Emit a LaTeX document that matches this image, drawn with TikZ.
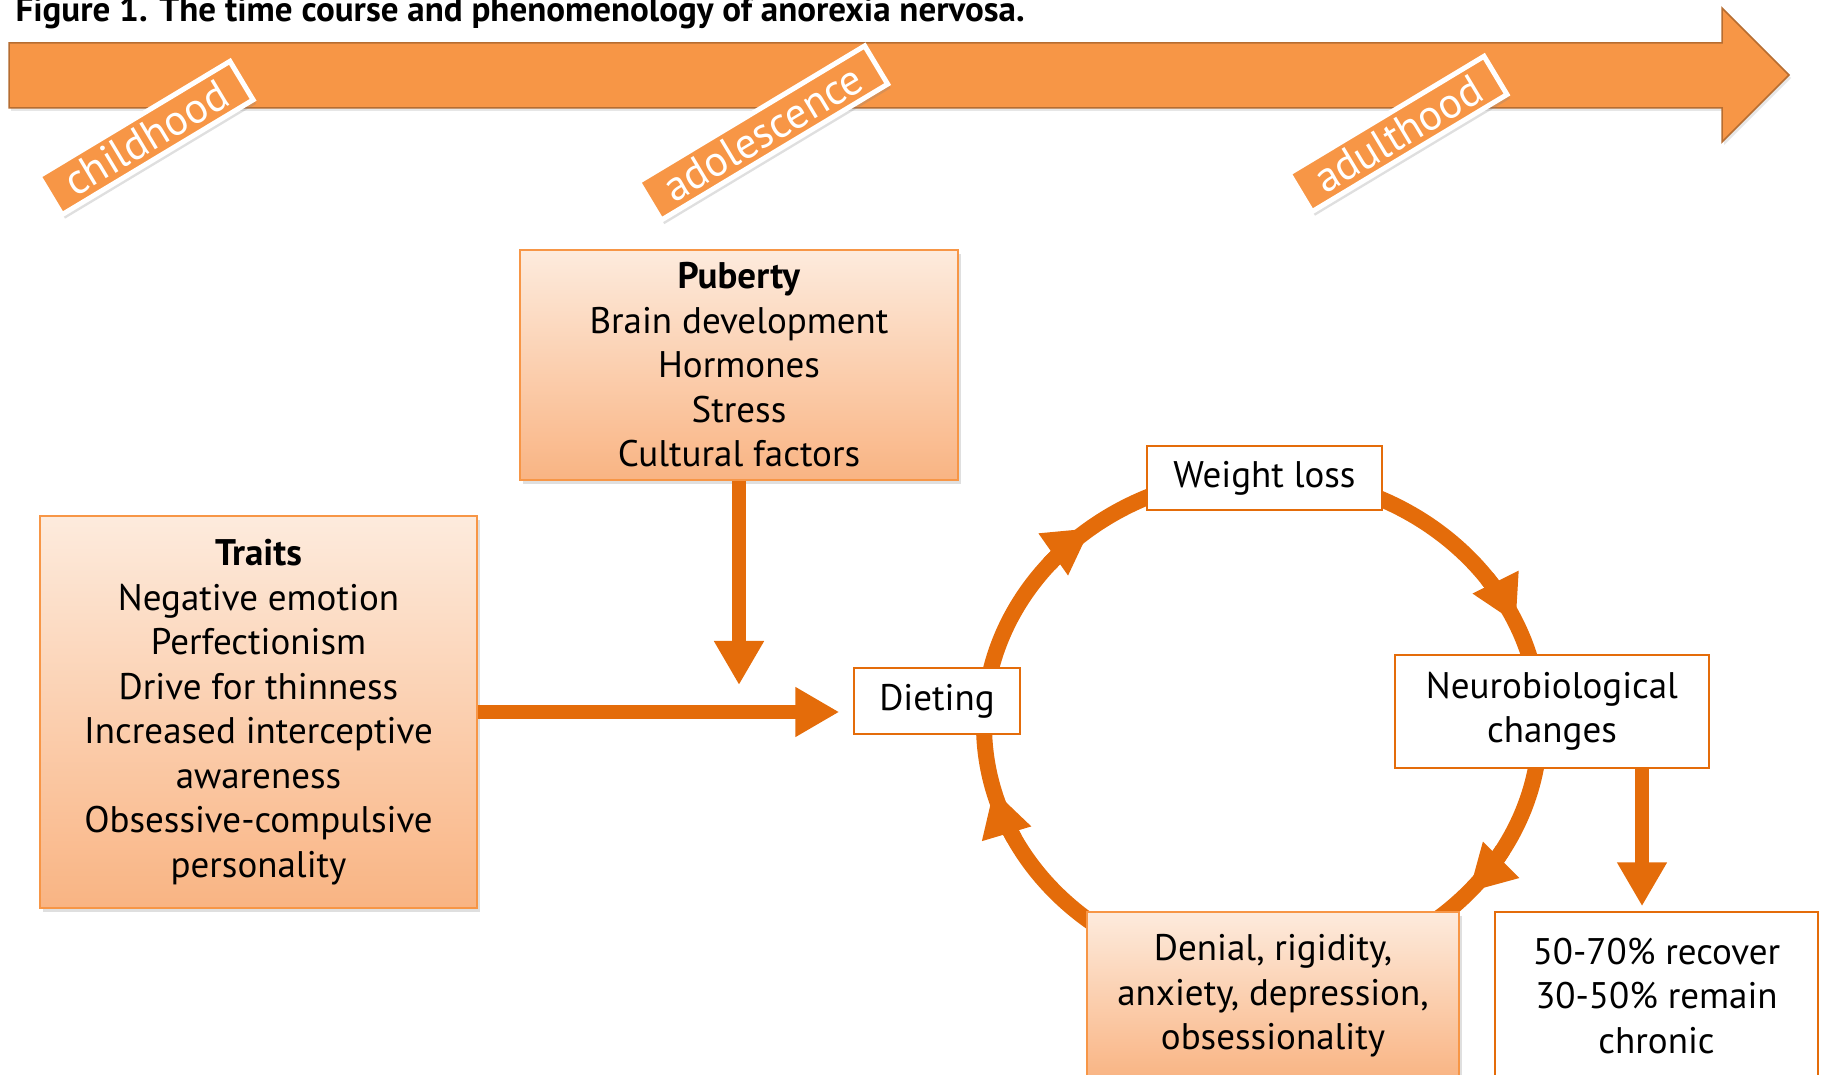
\documentclass[tikz,border=0pt]{standalone}
\usepackage{fontspec}
\setmainfont{PT Sans}
\usetikzlibrary{positioning}
\usetikzlibrary{arrows.meta}
\usetikzlibrary{shadows}
\usetikzlibrary{calc}
\definecolor{tlfill}{HTML}{F79646}
\definecolor{tldraw}{HTML}{B66D31}
\definecolor{darkor}{HTML}{E46C0A}
\definecolor{boxtop}{HTML}{FDEBDD}
\definecolor{boxbot}{HTML}{F9B483}
\tikzset{
    softshadow/.style = {drop shadow={shadow xshift=3pt,shadow yshift=-4pt,opacity=0.25}},
    gradbox/.style = {rectangle, draw=tlfill, line width=1.5pt, top color=boxtop, bottom color=boxbot, align=center, inner sep=0pt, font=\fontsize{37}{44.5}\selectfont, softshadow},
    plainbox/.style = {rectangle, draw=darkor, line width=1.5pt, fill=white, align=center, inner sep=0pt, font=\fontsize{37}{44.5}\selectfont},
    stagetag/.style = {rectangle, draw=white, line width=5pt, fill=tlfill, text=white, rotate=31, inner xsep=20pt, inner ysep=7pt, font=\fontsize{43}{43}\selectfont, softshadow},
    edgeo/.style = {-{Triangle[length=44pt,width=47pt]}, line width=14pt, darkor},
    ringline/.style = {line width=16pt, darkor},
    ringtip/.style = {ringline, -{Triangle[length=46pt,width=48pt]}},
}
\newcommand{\hd}[1]{\textbf{#1}}

\begin{document}
\begin{tikzpicture}[x=1pt,y=1pt]
\useasboundingbox (0,0) rectangle (1827,1074);
% time line
\node[anchor=base west, font=\bfseries\fontsize{35}{35}\selectfont] at (12,1052) (title) {Figure 1. The time course and phenomenology of anorexia nervosa.};
\draw[fill=tlfill, draw=tldraw, line width=1.5pt, drop shadow={shadow xshift=2pt,shadow yshift=-3pt,opacity=0.2}]
  (9,1031) -- (1722,1031) -- (1722,1066) -- (1789,999) -- (1722,932) -- (1722,966) -- (9,966) -- cycle;
\node[stagetag] at (146,936) (child) {childhood};
\node[stagetag] at (763,941) (adol) {adolescence};
\node[stagetag] at (1398,940) (adult) {adulthood};
%
% cycle
\coordinate (ringc) at (1262,349);
\draw[ringline] (ringc) ellipse [x radius=278, y radius=250];
\foreach \t in {128,24,-42,195}
  \draw[ringtip] ($(ringc)+(\t+12:278 and 250)$) arc[start angle=\t+12, end angle=\t, x radius=278, y radius=250];
%
\node[gradbox, minimum width=438pt, minimum height=230pt] at (739,709) (puberty) {\hd{Puberty}\\Brain development\\Hormones\\Stress\\Cultural factors};
\node[gradbox, minimum width=437pt, minimum height=392pt] at (258.5,362) (traits) {\hd{Traits}\\Negative emotion\\Perfectionism\\Drive for thinness\\Increased interceptive\\awareness\\Obsessive-compulsive\\personality};
\node[plainbox, minimum width=166pt, minimum height=66pt] at (937,373) (dieting) {Dieting};
\node[plainbox, minimum width=235pt, minimum height=64pt] at (1264.5,596) (wloss) {Weight loss};
\node[plainbox, minimum width=314pt, minimum height=113pt] at (1552,362.5) (neuro) {Neurobiological\\changes};
\node[gradbox, minimum width=372pt, minimum height=168pt] at (1273,78) (denial) {Denial, rigidity,\\anxiety, depression,\\obsessionality};
\node[plainbox, minimum width=323pt, minimum height=168pt] at (1656.5,78) (outcome) {50-70\% recover\\30-50\% remain\\chronic};
%
\coordinate (meet) at (739,389);
\coordinate (outtop) at ([xshift=90pt]neuro.south);
\draw[edgeo] (puberty.south) -- (meet);
\draw[edgeo, shorten >=14pt] (traits.east) -- (traits.east -| dieting.west);
\draw[edgeo, shorten >=5pt] (outtop) -- (outtop |- outcome.north);

\end{tikzpicture}
\end{document}
